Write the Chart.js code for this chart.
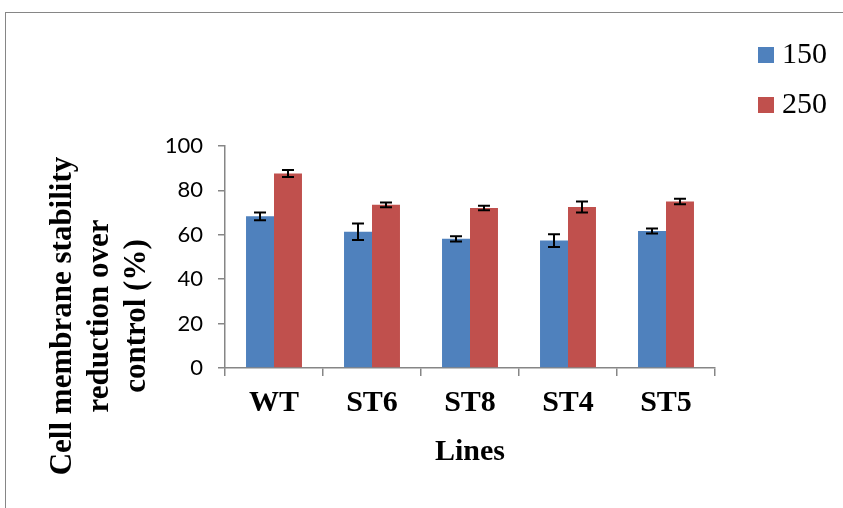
<!DOCTYPE html>
<html>
<head>
<meta charset="utf-8">
<script src="https://cdn.jsdelivr.net/npm/chart.js@4.4.1/dist/chart.umd.min.js"></script>
<style>
    body { margin: 0; background: #fff; }
    #wrap { position: relative; width: 843px; height: 508px; overflow: hidden; }
    #frame { position: absolute; left: 5px; top: 12px; width: 900px; height: 600px;
        border-top: 1.5px solid #868686; border-left: 1.5px solid #868686; }
    #chart { position: absolute; left: 0; top: 0; }
    .legend { position: absolute; left: 758px; font: 30px "Liberation Serif", "Times New Roman", serif; color: #000; }
    .legend span { display: inline-block; width: 16px; height: 16px; margin-right: 8px; vertical-align: 0px; }
</style>
</head>
<body>
<div id="wrap">
    <div id="frame"></div>
    <canvas id="chart" width="843" height="508"></canvas>
    <div class="legend" style="top: 36px;"><span style="background:#4F81BD"></span>150</div>
    <div class="legend" style="top: 86px;"><span style="background:#C0504D"></span>250</div>
</div>
<script>
const lines = ['WT', 'ST6', 'ST8', 'ST4', 'ST5'];
const vals150 = [68.3, 61.4, 58.2, 57.4, 61.7];
const err150 = [1.7, 3.7, 1.2, 2.9, 1.1];
const vals250 = [87.6, 73.5, 72.1, 72.5, 75.0];
const err250 = [1.6, 1.1, 1.0, 2.5, 1.2];
const yTicks = [0, 20, 40, 60, 80, 100];

const titleFont = '"Liberation Serif", "Times New Roman", serif';

// error bars drawn on top of each bar
const errorBars = {
    id: 'errorBars',
    afterDatasetsDraw(chart) {
        const ctx = chart.ctx;
        const y = chart.scales.y;
        const errs = [err150, err250];
        ctx.save();
        ctx.strokeStyle = '#000';
        ctx.lineWidth = 2;
        chart.data.datasets.forEach((ds, di) => {
            chart.getDatasetMeta(di).data.forEach((bar, i) => {
                const v = ds.data[i];
                const top = y.getPixelForValue(v + errs[di][i]);
                const bot = y.getPixelForValue(v - errs[di][i]);
                ctx.beginPath();
                ctx.moveTo(bar.x, top); ctx.lineTo(bar.x, bot);
                ctx.moveTo(bar.x - 6, top); ctx.lineTo(bar.x + 6, top);
                ctx.moveTo(bar.x - 6, bot); ctx.lineTo(bar.x + 6, bot);
                ctx.stroke();
            });
        });
        ctx.restore();
    }
};

// three-line rotated y title
const yTitle = {
    id: 'yTitle',
    afterDraw(chart) {
        const ctx = chart.ctx;
        const text = ['Cell membrane stability', 'reduction over', 'control (%)'];
        ctx.save();
        ctx.translate(0, 316);
        ctx.rotate(-Math.PI / 2);
        ctx.fillStyle = '#000';
        ctx.font = 'bold 31px ' + titleFont;
        ctx.textAlign = 'center';
        ctx.textBaseline = 'middle';
        text.forEach((t, i) => ctx.fillText(t, 0, 63 + i * 37));
        ctx.restore();
    }
};

new Chart(document.getElementById('chart'), {
    type: 'bar',
    data: {
        labels: lines,
        datasets: [
            { label: '150', data: vals150, backgroundColor: '#4F81BD' },
            { label: '250', data: vals250, backgroundColor: '#C0504D' }
        ]
    },
    options: {
        responsive: false,
        animation: false,
        layout: { padding: { left: 0, top: 146, right: 128, bottom: 0 } },
        datasets: { bar: { categoryPercentage: 0.571, barPercentage: 1.0 } },
        plugins: { legend: { display: false }, tooltip: { enabled: false } },
        scales: {
            x: {
                afterFit: (s) => { s.height = 140; },
                grid: { offset: true, drawOnChartArea: false, tickLength: 8, color: '#868686', lineWidth: 1.5 },
                border: { color: '#868686', width: 1.5 },
                ticks: { color: '#000', padding: 9, font: { family: titleFont, size: 30, weight: 'bold' } },
                title: { display: true, text: 'Lines', color: '#000', padding: { bottom: 38 },
                    font: { family: titleFont, size: 30, weight: 'bold' } }
            },
            y: {
                min: 0, max: 100,
                afterFit: (s) => { s.width = 225; },
                afterBuildTicks: (s) => { s.ticks = yTicks.map(v => ({ value: v })); },
                grid: { drawOnChartArea: false, tickLength: 7, color: '#868686', lineWidth: 1.5 },
                border: { color: '#868686', width: 1.5 },
                ticks: { color: '#000', padding: 15, font: { family: 'Lato', size: 22 } }
            }
        }
    },
    plugins: [errorBars, yTitle]
});
</script>
</body>
</html>
